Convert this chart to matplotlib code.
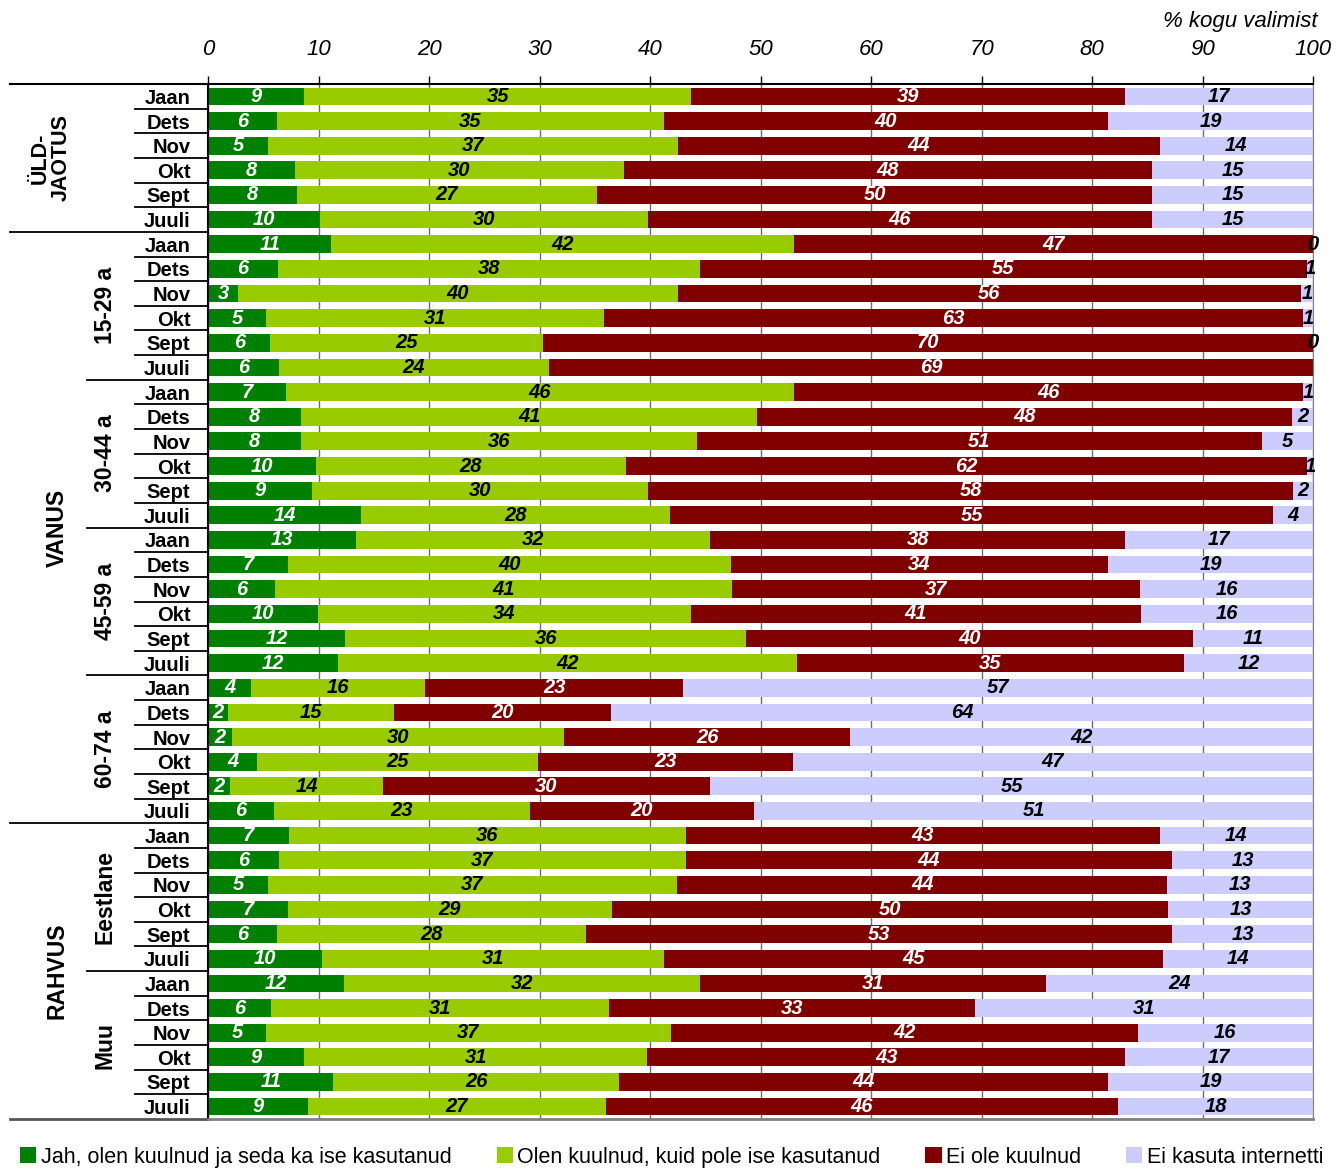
import matplotlib.pyplot as plt
import numpy as np

plt.rcParams['font.family'] = ['Liberation Sans', 'DejaVu Sans']

# kuud iga grupi sees (ülevalt alla)
months = ['Jaan', 'Dets', 'Nov', 'Okt', 'Sept', 'Juuli']
subgroups = ['ÜLD-\nJAOTUS', '15-29 a', '30-44 a', '45-59 a', '60-74 a', 'Eestlane', 'Muu']
series_names = ['Jah, olen kuulnud ja seda ka ise kasutanud',
                'Olen kuulnud, kuid pole ise kasutanud',
                'Ei ole kuulnud',
                'Ei kasuta internetti']
colors = ['#008000', '#99CC00', '#800000', '#CCCCFF']
text_colors = ['white', 'black', 'white', 'black']

nan = np.nan
jah = [8.7, 6.2, 5.4, 7.8, 8.0, 10.1,
       11.1, 6.3, 2.7, 5.2, 5.6, 6.4,
       7.0, 8.4, 8.4, 9.7, 9.4, 13.8,
       13.4, 7.2, 6.0, 9.9, 12.4, 11.7,
       3.9, 1.8, 2.1, 4.4, 2.0, 5.9,
       7.3, 6.4, 5.4, 7.2, 6.2, 10.3,
       12.3, 5.7, 5.2, 8.7, 11.3, 9.0]
olen = [35.0, 35.0, 37.1, 29.8, 27.2, 29.7,
        41.9, 38.2, 39.8, 30.6, 24.7, 24.4,
        46.0, 41.3, 35.8, 28.1, 30.4, 28.0,
        32.0, 40.1, 41.4, 33.8, 36.3, 41.6,
        15.7, 15.0, 30.1, 25.4, 13.8, 23.2,
        35.9, 36.8, 37.0, 29.3, 28.0, 30.9,
        32.2, 30.6, 36.7, 31.0, 25.9, 27.0]
ei_ole = [39.3, 40.2, 43.6, 47.8, 50.2, 45.6,
          47.0, 54.9, 56.4, 63.3, 69.7, 69.2,
          46.1, 48.4, 51.2, 61.6, 58.4, 54.6,
          37.6, 34.1, 36.9, 40.7, 40.4, 35.0,
          23.4, 19.6, 25.9, 23.1, 29.6, 20.3,
          42.9, 44.0, 44.4, 50.4, 53.0, 45.2,
          31.3, 33.1, 42.2, 43.3, 44.2, 46.3]
ei_kasuta = [17.0, 18.6, 13.9, 14.6, 14.6, 14.6,
             0.0, 0.6, 1.1, 0.9, 0.0, nan,
             0.9, 1.9, 4.6, 0.6, 1.8, 3.6,
             17.0, 18.6, 15.7, 15.6, 10.9, 11.7,
             57.0, 63.6, 41.9, 47.1, 54.6, 50.6,
             13.9, 12.8, 13.2, 13.1, 12.8, 13.6,
             24.2, 30.6, 15.9, 17.0, 18.6, 17.7]

data = [jah, olen, ei_ole, ei_kasuta]
n = len(jah)
y = np.arange(n)

fig = plt.figure(figsize=(13.4, 11.68), dpi=100)
ax = fig.add_axes([0.1555, 0.042, 0.8245, 0.886])

left = np.zeros(n)
for vals, col, tcol, name in zip(data, colors, text_colors, series_names):
    vals = np.array(vals, dtype=float)
    w = np.nan_to_num(vals)
    ax.barh(y, w, left=left, height=0.72, color=col, label=name, zorder=2)
    for i in range(n):
        if not np.isnan(vals[i]):
            ax.text(left[i] + w[i] / 2, y[i], f'{vals[i]:.0f}', ha='center', va='center',
                    color=tcol, fontsize=14.5, fontweight='bold', fontstyle='italic', zorder=3)
    left += w

ax.set_xlim(0, 100)
ax.set_ylim(n - 0.5, -0.5)
ax.set_xticks(range(0, 101, 10))
ax.xaxis.tick_top()
ax.tick_params(axis='x', length=6, width=1, pad=11, labelsize=16)
for lab in ax.get_xticklabels():
    lab.set_fontstyle('italic')
ax.grid(axis='x', color='#6f6f6f', linewidth=1, zorder=0)

ax.set_yticks(y)
ax.set_yticklabels(months * len(subgroups), fontsize=14.5, fontweight='bold')
ax.tick_params(axis='y', length=0, pad=13)

ax.spines['top'].set_linewidth(1.5)
ax.spines['left'].set_linewidth(1.5)
ax.spines['right'].set_color('#808080')
ax.spines['bottom'].set_color('#808080')
ax.spines['bottom'].set_linewidth(2)

# eraldusjooned vasakul
tr = ax.get_yaxis_transform()
for i in range(n - 1):
    b = i + 0.5
    if b in (5.5, 29.5):
        x0 = -0.1795
    elif b in (11.5, 17.5, 23.5, 35.5):
        x0 = -0.1097
    else:
        x0 = -0.0663
    ax.plot([x0, 0], [b, b], transform=tr, color='black', lw=1.3, clip_on=False)
ax.plot([-0.1795, 0], [-0.5, -0.5], transform=tr, color='black', lw=1.5, clip_on=False)
ax.plot([-0.1795, 0], [n - 0.5, n - 0.5], transform=tr, color='#555555', lw=2, clip_on=False)

# grupisildid
ax.text(-0.143, 2.5, subgroups[0], transform=tr, rotation=90, ha='center', va='center',
        fontsize=15.5, fontweight='bold', linespacing=1.0)
for k, name in enumerate(subgroups[1:], start=1):
    ax.text(-0.0935, k * 6 + 2.5, name, transform=tr, rotation=90, ha='center', va='center',
            fontsize=16.5, fontweight='bold')
ax.text(-0.137, 17.5, 'VANUS', transform=tr, rotation=90, ha='center', va='center',
        fontsize=16.5, fontweight='bold')
ax.text(-0.137, 35.5, 'RAHVUS', transform=tr, rotation=90, ha='center', va='center',
        fontsize=16.5, fontweight='bold')

fig.text(0.983, 0.982, '% kogu valimist', ha='right', va='center', fontsize=16, fontstyle='italic')

fig.legend(loc='center left', bbox_to_anchor=(0.015, 0.0094), ncol=4, frameon=False,
           fontsize=15.5, handlelength=0.75, handleheight=0.75, handletextpad=0.2,
           columnspacing=2.1, borderaxespad=0, borderpad=0)

fig.savefig('out.png', dpi=100)
